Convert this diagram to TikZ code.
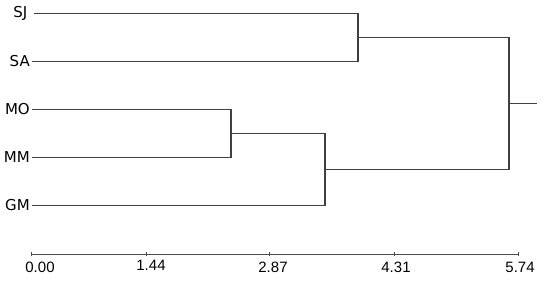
\documentclass[tikz,border=0pt]{standalone}
\usepackage{fontspec}
\setmainfont{Liberation Sans}
\newfontfamily\leaffont{DejaVu Sans}
\begin{document}
\begin{tikzpicture}[x=1pt,y=-1pt,
  branch/.style={draw=black!75, line width=1.3pt},
  leaflabel/.style={anchor=east, inner sep=0pt, font=\leaffont\fontsize{15}{15}\selectfont},
  ticklabel/.style={anchor=north, inner sep=0pt, font=\fontsize{15}{15}\selectfont},
  axisline/.style={draw=black!70, line width=0.9pt}]
\useasboundingbox (0,0) rectangle (551,283);
% leaf labels
\node[leaflabel] (SJ) at (27.5,13.5) {SJ};
\node[leaflabel] (SA) at (30,61.5) {SA};
\node[leaflabel] (MO) at (30,109.5) {MO};
\node[leaflabel] (MM) at (30,157.5) {MM};
\node[leaflabel] (GM) at (30,205.5) {GM};
% leaf starts
\coordinate (sSJ) at (33.5,13.5);
\coordinate (sSA) at (32,61.5);
\coordinate (sMO) at (32,109.5);
\coordinate (sMM) at (32,157.5);
\coordinate (sGM) at (32,205.5);
% joins
\coordinate (jSJ) at (358,13.5);
\coordinate (jSA) at (358,61.5);
\coordinate (kA) at (358,37.5);
\coordinate (jMO) at (231,109.5);
\coordinate (jMM) at (231,157.5);
\coordinate (kM) at (231,133.5);
\coordinate (jMMt) at (325,133.5);
\coordinate (jGM) at (325,205.5);
\coordinate (kG) at (325,169.5);
\coordinate (rA) at (509,37.5);
\coordinate (rG) at (509,169.5);
\coordinate (rootmid) at (509,103.5);
\coordinate (rootend) at (537,103.5);
% branches
\draw[branch] (sSJ) -- (jSJ) -- (jSA) -- (sSA);
\draw[branch] (sMO) -- (jMO) -- (jMM) -- (sMM);
\draw[branch] (kM) -- (jMMt) -- (jGM) -- (sGM);
\draw[branch] (kA) -- (rA) -- (rG) -- (kG);
\draw[branch] (rootmid) -- (rootend);
% axis
\coordinate (t0) at (31.7,254);
\coordinate (t1) at (146,254);
\coordinate (t2) at (269,254);
\coordinate (t3) at (394,254);
\coordinate (t4) at (518,254);
\draw[axisline] (t0) -- (t4);
\foreach \t in {t0,t1,t2,t3,t4} \draw[axisline] ([yshift=-2pt]\t) -- ([yshift=2pt]\t);
\node[ticklabel] (l0) at (40,261.5) {0.00};
\node[ticklabel] (l1) at (151,259.5) {1.44};
\node[ticklabel] (l2) at (273,261.5) {2.87};
\node[ticklabel] (l3) at (396,261.5) {4.31};
\node[ticklabel] (l4) at (520,261.5) {5.74};
\end{tikzpicture}
\end{document}
